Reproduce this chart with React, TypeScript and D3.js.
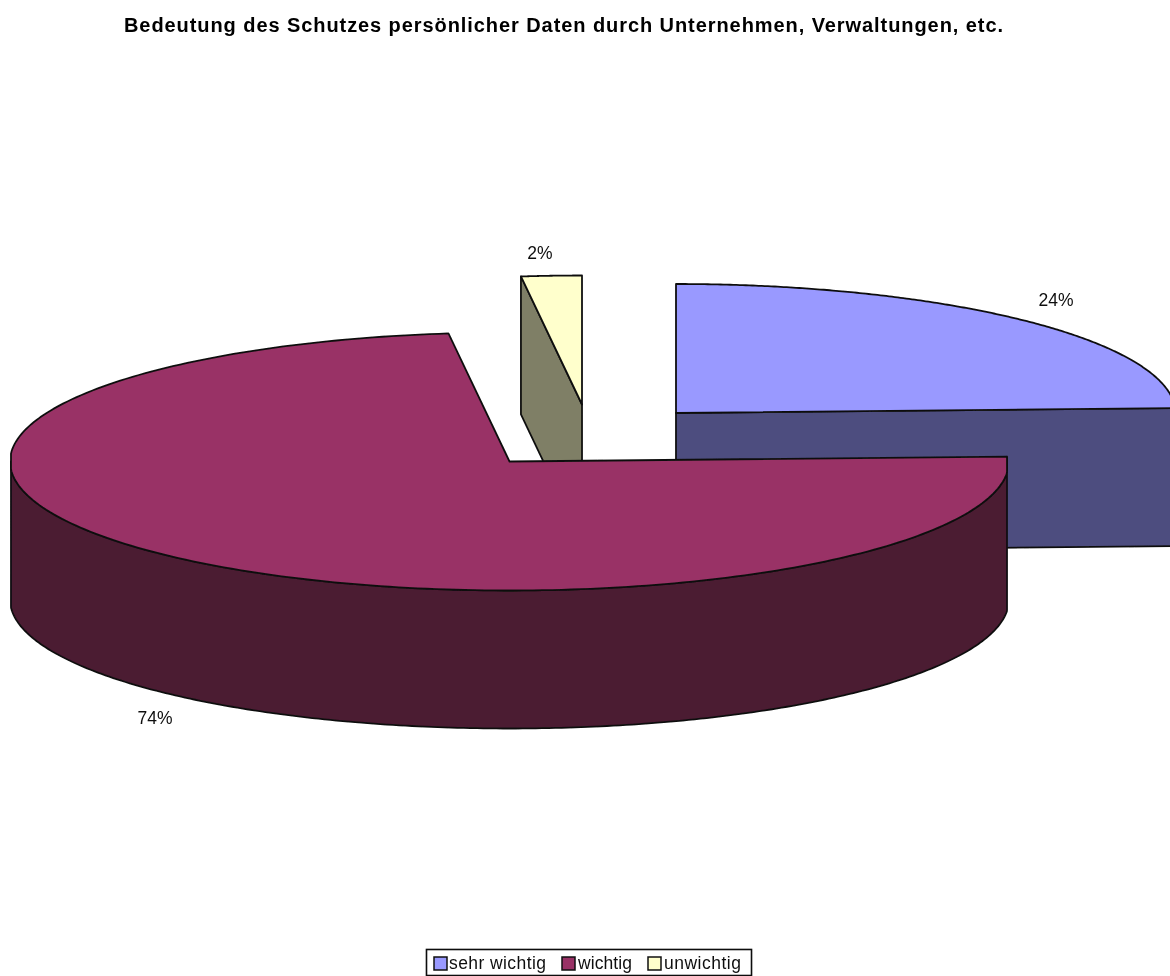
import React from "react";
import * as d3 from "d3";

const titleText = "Bedeutung des Schutzes persönlicher Daten durch Unternehmen, Verwaltungen, etc.";
const categories = ["sehr wichtig", "wichtig", "unwichtig"];
const values = [24.4, 73.65, 1.95];
const topColors = ["#9999ff", "#993366", "#ffffcc"];
const sideColors = ["#4d4d7f", "#4c1a32", "#7f7f66"];

const RX = 499.5;
const RY = 129;
const DEPTH = 138;
const CLIP_LEFT = 11;
const CLIP_RIGHT = 1007;
const centers: [number, number][] = [[676, 413], [509.5, 461.5], [582, 404.5]];
const labelPos: [number, number][] = [[1056, 306], [155, 724], [540, 259]];
const swatchX = [434, 562, 648];
const legendTextX = [449, 578, 664];
const legendTextLen = [97, 54, 77];

const pct = d3.format(".0%");
const total = d3.sum(values);
const arcs = d3.pie<number>().sort(null).value((d) => d)(values);

const line = d3.line<[number, number]>().x((d) => d[0]).y((d) => d[1]);

function pt(i: number, a: number, dy = 0): [number, number] {
  const [cx, cy] = centers[i];
  return [cx + RX * Math.sin(a), cy - RY * Math.cos(a) + dy];
}
function arcPts(i: number, a0: number, a1: number, dy = 0, minX = -Infinity, maxX = Infinity): [number, number][] {
  const n = 240;
  return d3.range(n + 1).map((k) => {
    const p = pt(i, a0 + ((a1 - a0) * k) / n, dy);
    return [Math.max(minX, Math.min(p[0], maxX)), p[1]] as [number, number];
  });
}

const stroke = { stroke: "#111", strokeWidth: 1.8, strokeLinejoin: "round" as const };

function Blue() {
  const a = arcs[0];
  const c = centers[0];
  const end = pt(0, a.endAngle);
  return (
    <g>
      <path d={line([c, end, [end[0], end[1] + DEPTH], [c[0], c[1] + DEPTH]])! + "Z"} fill={sideColors[0]} {...stroke} />
      <path d={line([c, ...arcPts(0, a.startAngle, a.endAngle)])! + "Z"} fill={topColors[0]} {...stroke} />
    </g>
  );
}

function Yellow() {
  const a = arcs[2];
  const c = centers[2];
  const start = pt(2, a.startAngle);
  return (
    <g>
      <path d={line([start, c, [c[0], c[1] + DEPTH], [start[0], start[1] + DEPTH]])! + "Z"} fill={sideColors[2]} {...stroke} />
      <path d={line([c, ...arcPts(2, a.startAngle, a.endAngle)])! + "Z"} fill={topColors[2]} {...stroke} />
    </g>
  );
}

function Maroon() {
  const a = arcs[1];
  const c = centers[1];
  const startRaw = pt(1, a.startAngle);
  const startTop: [number, number] = [CLIP_RIGHT, startRaw[1]];
  const rim = arcPts(1, Math.PI / 2, (3 * Math.PI) / 2, 0, CLIP_LEFT, CLIP_RIGHT);
  const rimBottom = arcPts(1, (3 * Math.PI) / 2, Math.PI / 2, DEPTH, CLIP_LEFT, CLIP_RIGHT);
  const top = arcPts(1, a.startAngle, a.endAngle, 0, CLIP_LEFT, CLIP_RIGHT);
  return (
    <g>
      <path d={line([startTop, ...rim, ...rimBottom])! + "Z"} fill={sideColors[1]} {...stroke} />
      <path d={line([c, startTop, ...top])! + "Z"} fill={topColors[1]} {...stroke} />
    </g>
  );
}

export default function App() {
  return (
    <svg
      width={1170}
      height={976}
      viewBox="0 0 1170 976"
      style={{ position: "absolute", left: 0, top: 0, display: "block", background: "#fff" }}
      fontFamily="'Liberation Sans', Arial, sans-serif"
    >
      <defs>
        <filter id="soft" filterUnits="userSpaceOnUse" x={0} y={0} width={1170} height={976}>
          <feGaussianBlur stdDeviation={0.5} />
        </filter>
      </defs>
      <g filter="url(#soft)">
        <text x={124} y={32} fontSize={20} fontWeight="bold" fill="#000" textLength={879} lengthAdjust="spacing">
          {titleText}
        </text>
        <Blue />
        <Yellow />
        <Maroon />
        {values.map((v, i) => (
          <text key={i} x={labelPos[i][0]} y={labelPos[i][1]} fontSize={17.5} textAnchor="middle" fill="#111">
            {pct(v / total)}
          </text>
        ))}
        <rect x={426.5} y={949.5} width={325} height={26} fill="#fff" stroke="#111" strokeWidth={1.6} />
        {categories.map((c, i) => (
          <g key={c}>
            <rect x={swatchX[i]} y={957} width={13} height={13} fill={topColors[i]} stroke="#111" strokeWidth={1.5} />
            <text x={legendTextX[i]} y={969} fontSize={17.5} fill="#111" textLength={legendTextLen[i]} lengthAdjust="spacing">
              {c}
            </text>
          </g>
        ))}
      </g>
    </svg>
  );
}
